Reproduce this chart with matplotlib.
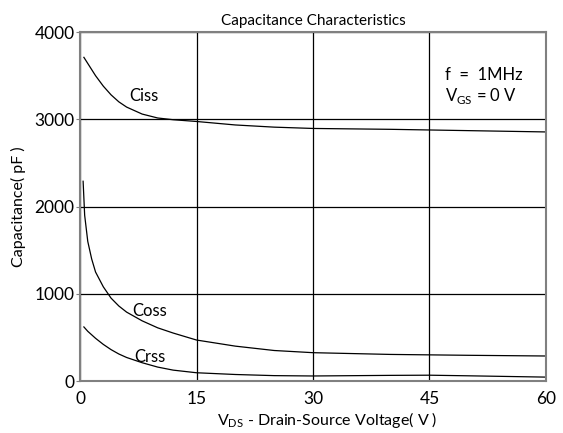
import matplotlib.pyplot as plt

plt.rcParams['font.family'] = ['Lato', 'DejaVu Sans']

v_ciss = [0.5, 1, 2, 3, 4, 5, 6, 8, 10, 12, 15, 20, 25, 30, 40, 50, 60]
ciss = [3710, 3640, 3500, 3380, 3280, 3200, 3140, 3060, 3015, 2995, 2975, 2935, 2910, 2895, 2885, 2870, 2855]

v_coss = [0.4, 0.6, 1, 1.5, 2, 3, 4, 5, 6, 8, 10, 12, 15, 20, 25, 30, 40, 50, 60]
coss = [2290, 1900, 1600, 1400, 1250, 1080, 950, 860, 790, 690, 610, 550, 470, 400, 350, 325, 305, 295, 287]

v_crss = [0.5, 1, 2, 3, 4, 5, 6, 8, 10, 12, 15, 20, 25, 30, 40, 45, 50, 60]
crss = [620, 570, 490, 420, 360, 310, 270, 210, 160, 125, 95, 75, 62, 58, 65, 67, 60, 45]

x_ticks = [0, 15, 30, 45, 60]
y_ticks = [0, 1000, 2000, 3000, 4000]

fig = plt.figure(figsize=(5.63, 4.33), dpi=100)
ax = fig.add_axes([0.1421, 0.12, 0.8277, 0.806])

for v, c in [(v_ciss, ciss), (v_coss, coss), (v_crss, crss)]:
    ax.plot(v, c, color='black', lw=0.9)

ax.set_xlim(0, 60)
ax.set_ylim(0, 4000)
ax.set_xticks(x_ticks)
ax.set_yticks(y_ticks)
ax.grid(True, color='black', lw=0.9)
for s in ax.spines.values():
    s.set_color('#808080')
    s.set_linewidth(1.5)
ax.tick_params(axis='both', labelsize=12.5, length=3, color='#808080', pad=1)
ax.tick_params(axis='x', length=0, pad=7)

ax.text(8.2, 3265, 'Ciss', fontsize=12, ha='center', va='center')
ax.text(9.0, 800, 'Coss', fontsize=12, ha='center', va='center')
ax.text(9.0, 275, 'Crss', fontsize=12, ha='center', va='center')
ax.text(47.0, 3510, 'f  =  1MHz', fontsize=12, ha='left', va='center')
ax.text(47.0, 3270, r'V$_{\mathregular{GS}}$ = 0 V', fontsize=12, ha='left', va='center')

ax.set_title('Capacitance Characteristics', fontsize=11, pad=5)
ax.set_xlabel(r'V$_{\mathregular{DS}}$ - Drain-Source Voltage( V )', fontsize=11.5)
ax.xaxis.set_label_coords(0.53, -0.082)
ax.set_ylabel('Capacitance( pF )', fontsize=11.5, labelpad=6)

fig.savefig('out.png', dpi=100)
